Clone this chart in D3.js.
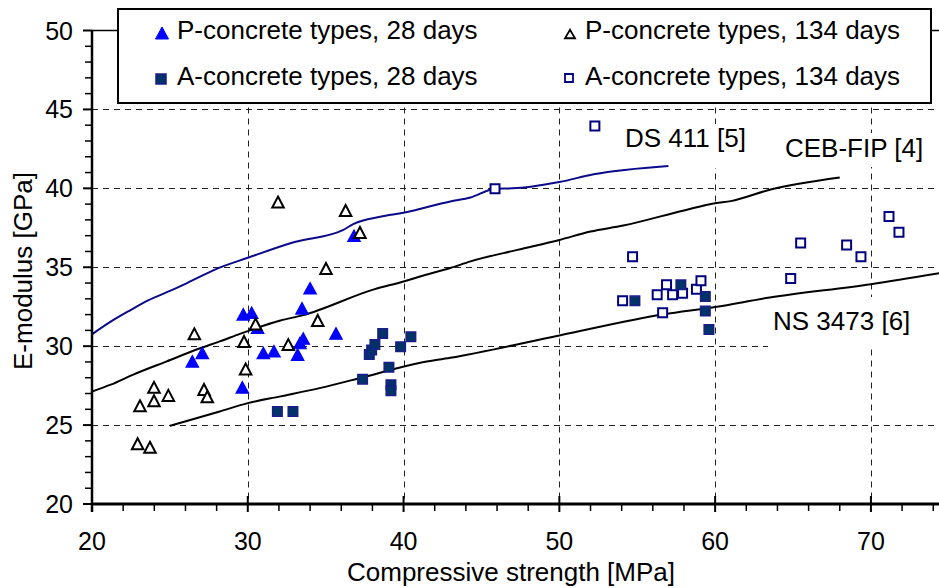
<!DOCTYPE html>
<html>
<head>
<meta charset="utf-8">
<script src="https://cdn.jsdelivr.net/npm/d3@7/dist/d3.min.js"></script>
<style>
  html, body { margin: 0; padding: 0; background: #fff; }
  svg { display: block; font-family: "Liberation Sans", Arial, sans-serif; }
</style>
</head>
<body>
<svg id="chart" width="939" height="588"></svg>
<script>
// ---- data ----
const xTicks = [20, 30, 40, 50, 60, 70];
const yTicks = [20, 25, 30, 35, 40, 45, 50];
const xGrid = [30, 40, 50, 60, 70];
const yGrid = [25, 30, 35, 40, 45];

// P-concrete types, 28 days  [strength MPa, E GPa]
const p28 = [[26.44,29.04],[27.08,29.57],[29.65,27.39],[31.0,29.57],[31.68,29.68],[29.71,32.02],
  [30.25,32.12],[30.63,31.17],[33.2,29.47],[33.35,30.2],[33.56,30.49],[33.48,32.4],[34.0,33.67],
  [35.66,30.81],[36.82,37.0]];
// P-concrete types, 134 days
const p134 = [[26.57,30.78],[29.76,30.3],[30.5,31.4],[29.86,28.55],[23.98,27.39],[24.9,26.88],
  [23.98,26.54],[23.08,26.22],[27.19,27.26],[27.4,26.8],[22.93,23.82],[23.72,23.59],[31.94,39.13],
  [36.28,38.6],[37.2,37.2],[35.02,34.92],[34.49,31.63],[32.6,30.1]];
// A-concrete types, 28 days
const a28 = [[31.9,25.86],[32.9,25.86],[37.37,27.9],[37.8,29.47],[37.95,29.75],[38.16,30.1],
  [38.66,30.8],[39.06,28.66],[39.19,27.56],[39.19,27.18],[39.81,29.96],[40.47,30.6],[54.85,32.87],
  [57.8,33.89],[59.37,33.14],[59.37,32.23],[59.6,31.06]];
// A-concrete types, 134 days
const a134 = [[56.28,33.25],[56.88,33.89],[57.27,33.25],[57.91,33.36],[58.8,33.61],[59.09,34.14],
  [56.63,32.12],[54.06,32.87],[54.7,35.67],[64.85,34.29],[65.49,36.54],[68.44,36.41],[69.36,35.67],
  [71.16,38.22],[71.8,37.22],[45.87,39.98],[52.28,43.95]];

// code curves
const ds411 = [[20,30.75],[21.2,31.55],[22.5,32.3],[23.6,32.9],[25,33.5],[26.1,34.0],[28,34.9],
  [30,35.6],[33,36.6],[36.1,37.35],[36.8,37.75],[38.5,38.2],[40,38.45],[43,39.17],[44.3,39.42],
  [45.9,39.98],[47,40.0],[50,40.4],[52.2,40.89],[57,41.42]];
const cebfip = [[20,27.13],[21.2,27.56],[22.65,28.2],[24.8,29.04],[26.9,29.85],[28.2,30.3],
  [29.5,30.78],[32.1,31.63],[33.5,31.95],[38.1,33.6],[40,34.1],[41,34.4],[43,34.95],[44.3,35.37],
  [47.3,36.1],[50,36.73],[52,37.26],[54.1,37.64],[58,38.6],[60,39.06],[61,39.19],[63.5,39.91],[68,40.68]];
const ns3473 = [[25,24.95],[28.2,25.86],[30,26.39],[32.1,26.82],[34.6,27.34],[37.4,28.03],[41,28.94],
  [43,29.26],[50,30.68],[56.7,32.02],[60,32.48],[63.5,33.08],[70,33.93],[74.4,34.63]];

const legendLabels = ["P-concrete types, 28 days", "P-concrete types, 134 days",
  "A-concrete types, 28 days", "A-concrete types, 134 days"];
const curveLabels = ["DS 411 [5]", "CEB-FIP [4]", "NS 3473 [6]"];
const xTitle = "Compressive strength [MPa]";
const yTitle = "E-modulus [GPa]";

// ---- drawing ----
const svg = d3.select("#chart");
const x = d3.scaleLinear().domain([20, 74.37]).range([92, 939]);
const y = d3.scaleLinear().domain([20, 50]).range([504, 30.5]);
const X0 = x(20), X1 = 939, Y0 = y(20), Y1 = y(50);

// clip
svg.append("clipPath").attr("id", "plotclip").append("rect")
  .attr("x", X0).attr("y", Y1 - 10).attr("width", X1 - X0).attr("height", Y0 - Y1 + 10);

// gridlines
const grid = svg.append("g").attr("stroke", "#222").attr("stroke-width", 1).attr("stroke-dasharray", "6,5");
grid.selectAll(".gx").data(xGrid).join("line")
  .attr("x1", d => Math.round(x(d)) + 0.5).attr("x2", d => Math.round(x(d)) + 0.5)
  .attr("y1", Y1).attr("y2", Y0);
grid.selectAll(".gy").data(yGrid).join("line")
  .attr("x1", X0).attr("x2", X1)
  .attr("y1", d => Math.round(y(d)) + 0.5).attr("y2", d => Math.round(y(d)) + 0.5);

// top border line at 50
svg.append("line").attr("x1", X0).attr("x2", X1).attr("y1", Y1).attr("y2", Y1)
  .attr("stroke", "#000").attr("stroke-width", 1.5);

// white label boxes (hide gridlines behind the curve labels)
const labelBoxes = svg.append("g").attr("fill", "#fff");
labelBoxes.append("rect").attr("x", 618).attr("y", 124).attr("width", 136).attr("height", 44);
labelBoxes.append("rect").attr("x", 779).attr("y", 133).attr("width", 152).attr("height", 34);
labelBoxes.append("rect").attr("x", 768).attr("y", 297).attr("width", 171).attr("height", 50);

// curves
const line = d3.line().x(d => x(d[0])).y(d => y(d[1])).curve(d3.curveMonotoneX);
const curves = svg.append("g").attr("clip-path", "url(#plotclip)").attr("fill", "none").attr("stroke-width", 2)
  .attr("stroke-linejoin", "round");
curves.append("path").datum(ds411).attr("d", line).attr("stroke", "#0a0a8a");
curves.append("path").datum(cebfip).attr("d", line).attr("stroke", "#000");
curves.append("path").datum(ns3473).attr("d", line).attr("stroke", "#000");

// curve labels
const lab = svg.append("g").attr("font-size", 26).attr("fill", "#000");
lab.append("text").attr("x", 625).attr("y", 147).text(curveLabels[0]);
lab.append("text").attr("x", 785).attr("y", 157).text(curveLabels[1]);
lab.append("text").attr("x", 773).attr("y", 330).text(curveLabels[2]);

// markers
const triPath = (w, h) => `M0,${-h/2}L${w/2},${h/2}L${-w/2},${h/2}Z`;
const sqPath = (s) => `M${-s/2},${-s/2}h${s}v${s}h${-s}Z`;

const mk = svg.append("g");
mk.selectAll(".p28").data(p28).join("path")
  .attr("transform", d => `translate(${x(d[0])},${y(d[1])})`)
  .attr("d", triPath(12.5, 11.5)).attr("fill", "#0000ff").attr("stroke", "#0000ff").attr("stroke-width", 1.2);
mk.selectAll(".p134").data(p134).join("path")
  .attr("transform", d => `translate(${x(d[0])},${y(d[1])})`)
  .attr("d", triPath(11.5, 11)).attr("fill", "#fff").attr("stroke", "#000").attr("stroke-width", 2)
  .attr("stroke-linejoin", "miter");
mk.selectAll(".a134").data(a134).join("path")
  .attr("transform", d => `translate(${x(d[0])},${y(d[1])})`)
  .attr("d", sqPath(9)).attr("fill", "#fff").attr("stroke", "#000080").attr("stroke-width", 2);
mk.selectAll(".a28").data(a28).join("path")
  .attr("transform", d => `translate(${x(d[0])},${y(d[1])})`)
  .attr("d", sqPath(9.5)).attr("fill", "#003366").attr("stroke", "#1c1c8c").attr("stroke-width", 1.5);

// axes
const ax = svg.append("g").attr("stroke", "#000");
ax.append("line").attr("x1", X0).attr("x2", X0).attr("y1", Y1).attr("y2", Y0 + 8).attr("stroke-width", 2.5);
ax.append("line").attr("x1", X0).attr("x2", X1).attr("y1", Y0).attr("y2", Y0).attr("stroke-width", 3);

// y ticks
const yMinor = d3.range(21, 50).filter(v => v % 5 !== 0);
ax.selectAll(".ytm").data(yMinor).join("line")
  .attr("x1", X0 - 7).attr("x2", X0).attr("y1", d => y(d)).attr("y2", d => y(d)).attr("stroke-width", 1.5);
ax.selectAll(".ytM").data(yTicks).join("line")
  .attr("x1", X0 - 9).attr("x2", X0).attr("y1", d => y(d)).attr("y2", d => y(d)).attr("stroke-width", 2);
// x ticks
const xMinor = d3.range(22, 75, 2).filter(v => v % 10 !== 0);
ax.selectAll(".xtm").data(xMinor).join("line")
  .attr("x1", d => x(d)).attr("x2", d => x(d)).attr("y1", Y0).attr("y2", Y0 + 7).attr("stroke-width", 1.5);
ax.selectAll(".xtM").data(xTicks).join("line")
  .attr("x1", d => x(d)).attr("x2", d => x(d)).attr("y1", Y0 - 8).attr("y2", Y0 + 8).attr("stroke-width", 2);

// tick labels
const tl = svg.append("g").attr("font-size", 25).attr("fill", "#000");
tl.selectAll(".yl").data(yTicks).join("text")
  .attr("x", 73).attr("y", d => y(d) + 9).attr("text-anchor", "end").text(d => d);
tl.selectAll(".xl").data(xTicks).join("text")
  .attr("x", d => x(d)).attr("y", 550).attr("text-anchor", "middle").text(d => d);

// axis titles
svg.append("text").attr("x", 511).attr("y", 581).attr("text-anchor", "middle")
  .attr("font-size", 26).text(xTitle);
svg.append("text").attr("transform", "translate(32,271) rotate(-90)").attr("text-anchor", "middle")
  .attr("font-size", 26).text(yTitle);

// legend
const lg = svg.append("g");
lg.append("rect").attr("x", 118).attr("y", 9).attr("width", 813).attr("height", 94)
  .attr("fill", "#fff").attr("stroke", "#000").attr("stroke-width", 2);
lg.append("path").attr("transform", "translate(162,33)").attr("d", triPath(13, 12))
  .attr("fill", "#0000ff").attr("stroke", "#0000ff").attr("stroke-width", 1);
lg.append("path").attr("transform", "translate(570,34)").attr("d", triPath(10, 8.5))
  .attr("fill", "#fff").attr("stroke", "#000").attr("stroke-width", 1.8);
lg.append("path").attr("transform", "translate(161,79)").attr("d", sqPath(10))
  .attr("fill", "#003366").attr("stroke", "#1c1c8c").attr("stroke-width", 1.5);
lg.append("path").attr("transform", "translate(569,78)").attr("d", sqPath(8))
  .attr("fill", "#fff").attr("stroke", "#000080").attr("stroke-width", 1.8);
const lt = lg.append("g").attr("font-size", 26).attr("fill", "#000");
lt.append("text").attr("x", 177).attr("y", 39).text(legendLabels[0]);
lt.append("text").attr("x", 585).attr("y", 39).text(legendLabels[1]);
lt.append("text").attr("x", 177).attr("y", 85).text(legendLabels[2]);
lt.append("text").attr("x", 585).attr("y", 85).text(legendLabels[3]);
</script>
</body>
</html>
